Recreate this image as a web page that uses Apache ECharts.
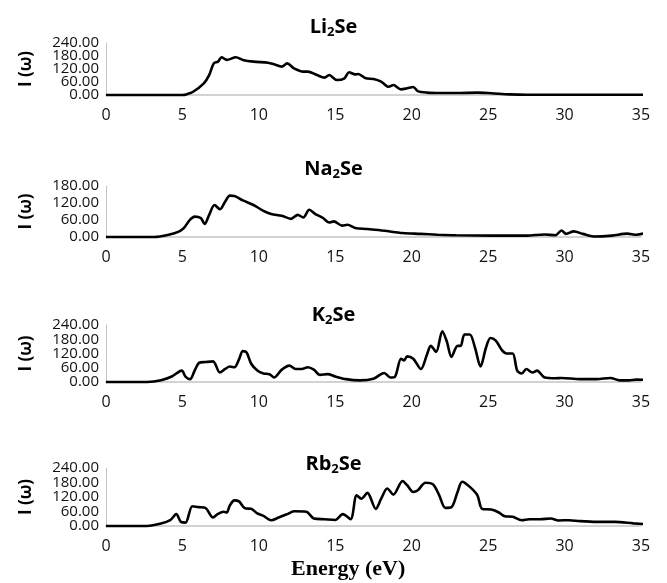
<!DOCTYPE html>
<html>
<head>
<meta charset="utf-8">
<script src="https://cdn.jsdelivr.net/npm/echarts@6/dist/echarts.min.js"></script>
<style>
html,body{margin:0;padding:0;background:#fff;}
#chart{width:667px;height:583px;}
</style>
</head>
<body>
<div id="chart"></div>
<script>
// ---- data ----
const xTicks = [0, 5, 10, 15, 20, 25, 30, 35];

const liE = [0, 5.0, 5.3, 5.7, 6.4, 6.75, 7.05, 7.33, 7.56, 7.9, 8.5, 8.95, 9.65, 10.6, 11.0, 11.5, 11.85, 12.3, 12.9, 13.2, 13.8, 14.3, 14.6, 15.1, 15.6, 15.9, 16.3, 16.5, 17.0, 17.5, 18.0, 18.5, 18.8, 19.3, 19.7, 20.1, 20.4, 21.0, 21.9, 22.9, 24.3, 25.2, 26.4, 27.5, 30, 33, 35.4];
const liI = [0, 0, 4, 15, 54, 92, 146, 154, 174, 162, 174, 162, 154, 149, 142, 131, 146, 123, 108, 108, 92, 80, 92, 69, 77, 105, 95, 97, 77, 74, 62, 38, 46, 26, 31, 37, 18, 11, 9, 9, 11, 8, 3, 1, 1, 1, 1];

const naE = [0, 3.15, 4.1, 4.8, 5.1, 5.5, 5.8, 6.2, 6.45, 6.75, 7.1, 7.45, 7.8, 8.1, 8.4, 8.95, 9.65, 10.3, 10.8, 11.5, 12.1, 12.55, 12.9, 13.3, 13.7, 14.2, 14.6, 14.9, 15.45, 15.8, 16.3, 17.1, 18.2, 19.4, 20.55, 21.7, 22.9, 25.2, 27.5, 28.7, 29.4, 29.8, 30.1, 30.6, 31.2, 31.9, 33.1, 34.1, 34.7, 35.3];
const naI = [0, 0, 8, 20, 32, 61, 72, 67, 46, 78, 113, 98, 125, 146, 145, 129, 113, 92, 81, 75, 64, 78, 69, 96, 81, 67, 51, 55, 40, 43, 32, 28, 22, 14, 11, 8, 6, 5, 5, 9, 6, 23, 11, 20, 11, 2, 5, 12, 8, 14];

const kE = [0, 2.7, 3.6, 4.3, 4.96, 5.2, 5.5, 5.8, 6.1, 6.5, 7.0, 7.45, 7.8, 8.1, 8.4, 8.7, 8.95, 9.2, 9.5, 9.9, 10.3, 10.7, 11.0, 11.5, 12.0, 12.4, 12.8, 13.2, 13.6, 14.0, 14.5, 15.0, 15.7, 16.6, 17.5, 18.2, 18.6, 18.9, 19.3, 19.5, 19.7, 20.1, 20.6, 21.0, 21.25, 21.6, 22.0, 22.3, 22.6, 23.0, 23.2, 23.45, 23.8, 24.15, 24.5, 24.85, 25.15, 25.5, 25.9, 26.2, 26.6, 26.9, 27.2, 27.5, 27.9, 28.2, 28.7, 29.4, 29.8, 31.0, 32.1, 33.0, 33.6, 34.2, 34.7, 35.4];
const kI = [0, 0, 7, 23, 48, 23, 12, 48, 81, 84, 87, 40, 55, 65, 62, 95, 130, 124, 77, 48, 36, 33, 19, 52, 69, 55, 55, 62, 52, 30, 33, 23, 12, 7, 14, 38, 19, 22, 98, 91, 108, 98, 55, 116, 152, 127, 214, 170, 106, 152, 152, 200, 200, 142, 65, 142, 185, 174, 134, 120, 120, 48, 36, 55, 40, 48, 19, 16, 17, 12, 12, 17, 7, 7, 10, 9];

const rbE = [0, 2.7, 3.6, 4.2, 4.6, 4.9, 5.2, 5.65, 6.05, 6.5, 7.0, 7.3, 7.7, 7.9, 8.1, 8.4, 8.7, 9.1, 9.5, 9.9, 10.3, 10.8, 11.3, 11.85, 12.3, 13.1, 13.6, 14.3, 15.0, 15.5, 16.0, 16.4, 16.7, 17.1, 17.65, 18.0, 18.4, 18.8, 19.4, 19.7, 20.1, 20.4, 20.9, 21.4, 21.8, 22.2, 22.6, 23.0, 23.3, 23.8, 24.3, 24.6, 25.2, 25.7, 26.1, 26.6, 27.2, 27.7, 28.4, 29.1, 29.6, 30.3, 31.0, 32.1, 33.3, 34.5, 35.4];
const rbI = [0, 0, 10, 24, 49, 17, 14, 82, 78, 75, 35, 49, 59, 56, 85, 106, 102, 73, 71, 52, 42, 24, 35, 49, 61, 59, 31, 28, 25, 49, 28, 127, 113, 137, 71, 113, 155, 130, 186, 169, 141, 148, 179, 172, 127, 75, 78, 141, 183, 162, 127, 71, 68, 56, 40, 38, 24, 28, 28, 31, 23, 24, 20, 17, 17, 11, 7];

const titles = ['Li', 'Na', 'K', 'Rb'];
const yMax = [240, 180, 240, 240];
const yStep = 60;
const energies = [liE, naE, kE, rbE];
const intensities = [liI, naI, kI, rbI];

// ---- layout ----
const gridTops = [43, 186, 325, 468];
const gridHeights = [52, 51, 57, 58];
const titleTops = [10, 152, 298, 447];
const FONT = '"Open Sans", "Noto Sans", sans-serif';
const axisGray = '#c4c4c4';

const zip = (xs, ys) => xs.map((x, i) => [x, ys[i]]);

const titleRich = {
  b: { fontFamily: FONT, fontSize: 20, fontWeight: 'bold', color: '#000', lineHeight: 24 },
  s: { fontFamily: FONT, fontSize: 13, fontWeight: 'bold', color: '#000', lineHeight: 8, verticalAlign: 'bottom' }
};

const yLabelBase = {
  fontFamily: FONT, fontSize: 15, lineHeight: 10, height: 10, color: '#111', margin: 7,
  showMinLabel: true, showMaxLabel: true, hideOverlap: false
};

// two stacked y axes per grid: even steps (0,120,240) and odd steps (60,180)
const yAxes = [];
gridTops.forEach((t, i) => {
  yAxes.push({
    gridIndex: i,
    type: 'value',
    min: 0,
    max: yMax[i],
    interval: yStep,
    axisLine: { show: true, lineStyle: { color: axisGray, width: 1 } },
    axisTick: { show: false },
    splitLine: { show: false },
    axisLabel: Object.assign({}, yLabelBase, {
      formatter: v => (Math.round(v / yStep) % 2 === 0 ? v.toFixed(2) : '')
    }),
    name: 'I (ω)',
    nameLocation: 'middle',
    nameRotate: 90,
    nameGap: 71,
    nameTextStyle: { fontFamily: FONT, fontSize: 17, fontWeight: 'bold', color: '#000' }
  });
});
gridTops.forEach((t, i) => {
  yAxes.push({
    gridIndex: i,
    type: 'value',
    position: 'left',
    offset: 0,
    min: 0,
    max: yMax[i],
    interval: yStep,
    axisLine: { show: false },
    axisTick: { show: false },
    splitLine: { show: false },
    axisLabel: Object.assign({}, yLabelBase, {
      formatter: v => (Math.round(v / yStep) % 2 === 1 ? v.toFixed(2) : '')
    })
  });
});

const option = {
  backgroundColor: '#fff',
  animation: false,
  title: titles.map((t, i) => ({
    text: '{b|' + t + '}{s|2}{b|Se}',
    left: 'center',
    top: titleTops[i],
    textStyle: { rich: titleRich }
  })),
  grid: gridTops.map((t, i) => ({ left: 106, right: 26, top: t, height: gridHeights[i], containLabel: false })),
  xAxis: gridTops.map((t, i) => ({
    gridIndex: i,
    type: 'value',
    min: xTicks[0],
    max: xTicks[xTicks.length - 1],
    interval: xTicks[1] - xTicks[0],
    axisLine: { show: true, onZero: false, lineStyle: { color: axisGray, width: 1.5 } },
    axisTick: { show: false },
    splitLine: { show: false },
    axisLabel: { fontFamily: FONT, fontSize: 16, color: '#111', margin: 12, showMinLabel: true, showMaxLabel: true }
  })),
  yAxis: yAxes,
  series: energies.map((e, i) => ({
    type: 'line',
    name: titles[i] + '2Se',
    xAxisIndex: i,
    yAxisIndex: i,
    data: zip(e, intensities[i]),
    showSymbol: false,
    symbol: 'none',
    smooth: 0.3,
    clip: false,
    lineStyle: { color: '#000', width: 2.6 }
  })),
  graphic: [{
    type: 'text',
    left: 291,
    top: 558,
    style: { text: 'Energy (eV)', font: 'bold 22px "Liberation Serif", "Times New Roman", serif', fill: '#000' }
  }]
};

const chart = echarts.init(document.getElementById('chart'), null, { renderer: 'canvas' });
chart.setOption(option);
</script>
</body>
</html>
